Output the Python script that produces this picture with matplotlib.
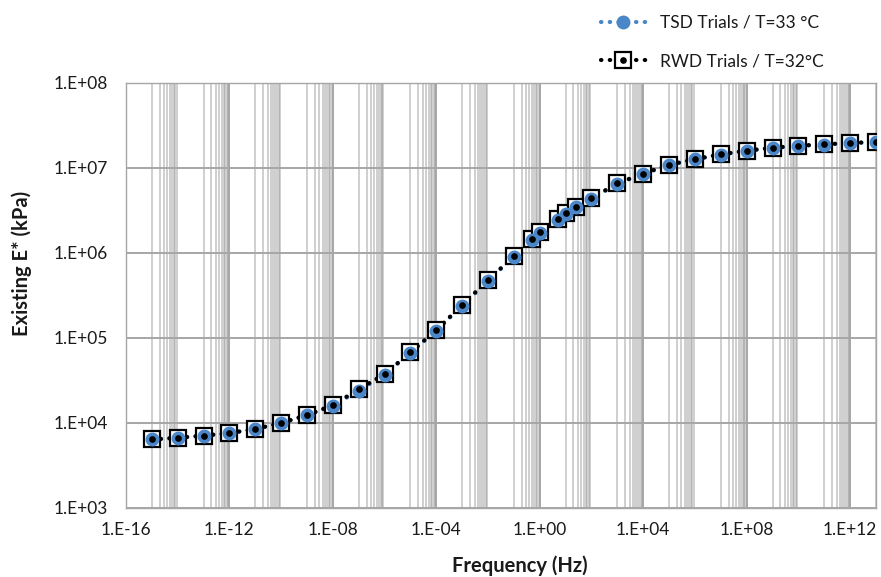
import numpy as np
from matplotlib import pyplot as plt
from matplotlib.legend_handler import HandlerTuple
from matplotlib.ticker import FixedLocator, FuncFormatter, NullLocator

plt.rcParams['font.family'] = ['Lato', 'DejaVu Sans']

# master curve points, frequency in Hz and |E*| in kPa
freq = [1e-15, 1e-14, 1e-13, 1e-12, 1e-11, 1e-10, 1e-9, 1e-8, 1e-7, 1e-6,
        1e-5, 1e-4, 1e-3, 1e-2, 1e-1, 0.5, 1, 5, 10, 25, 100,
        1e3, 1e4, 1e5, 1e6, 1e7, 1e8, 1e9, 1e10, 1e11, 1e12, 1e13]
tsd_e = [6.4e3, 6.7e3, 7.1e3, 7.6e3, 8.5e3, 1.0e4, 1.23e4, 1.6e4, 2.4e4, 3.7e4,
         6.7e4, 1.22e5, 2.4e5, 4.7e5, 9.0e5, 1.42e6, 1.7e6, 2.45e6, 2.87e6, 3.45e6, 4.35e6,
         6.5e6, 8.5e6, 1.08e7, 1.26e7, 1.44e7, 1.59e7, 1.72e7, 1.82e7, 1.88e7, 1.97e7, 2.0e7]
rwd_e = [6.4e3, 6.7e3, 7.1e3, 7.6e3, 8.5e3, 1.0e4, 1.24e4, 1.62e4, 2.5e4, 3.75e4,
         6.8e4, 1.24e5, 2.45e5, 4.8e5, 9.2e5, 1.45e6, 1.75e6, 2.5e6, 2.92e6, 3.5e6, 4.4e6,
         6.6e6, 8.6e6, 1.09e7, 1.27e7, 1.45e7, 1.6e7, 1.73e7, 1.83e7, 1.89e7, 1.98e7, 2.01e7]

x_major_exp = list(range(-16, 13, 4))
y_major_exp = list(range(3, 9))

fig = plt.figure(figsize=(8.81, 5.77), dpi=100)
ax = fig.add_axes([0.143, 0.1196, 0.8513, 0.7366])
ax.set_xscale('log')
ax.set_yscale('log')
ax.set_xlim(1e-16, 1e13)
ax.set_ylim(1e3, 1e8)

# excel style grid: minor lines in two groups per major step
for e in x_major_exp:
    for s in (1, 3):
        for m in range(1, 10):
            ax.axvline(m * 10.0 ** (e + s), color='#8c8c8c', alpha=0.45, lw=1.3, zorder=0)
    ax.axvline(10.0 ** e, color='#a6a6a6', lw=1.4, zorder=0)
for e in y_major_exp:
    ax.axhline(10.0 ** e, color='#a6a6a6', lw=1.4, zorder=0)

fmt = FuncFormatter(lambda v, _: '1.E{:+03d}'.format(int(round(np.log10(v)))))
ax.xaxis.set_major_locator(FixedLocator([10.0 ** e for e in x_major_exp]))
ax.yaxis.set_major_locator(FixedLocator([10.0 ** e for e in y_major_exp]))
ax.xaxis.set_minor_locator(NullLocator())
ax.yaxis.set_minor_locator(NullLocator())
ax.xaxis.set_major_formatter(fmt)
ax.yaxis.set_major_formatter(fmt)
ax.tick_params(axis='both', length=0, labelsize=12.5, colors='#1a1a1a')
ax.tick_params(axis='x', pad=10)
ax.tick_params(axis='y', pad=13)
for sp in ax.spines.values():
    sp.set_color('#a6a6a6')
    sp.set_linewidth(1.0)

dots = dict(ls=(0, (0.1, 2.0)), lw=3.0, dash_capstyle='round')
blue = '#4a86c8'
tsd_line, = ax.plot(freq, tsd_e, color=blue, zorder=2, **dots)
rwd_line, = ax.plot(freq, rwd_e, color='black', marker='s', ms=11.5, mfc='white',
                    mec='black', mew=1.6, zorder=3, **dots)
tsd_pts, = ax.plot(freq, tsd_e, ls='none', marker='o', ms=9, color=blue, zorder=4)
rwd_dots, = ax.plot(freq, rwd_e, ls='none', marker='o', ms=3.8, color='black', zorder=5)

fig.text(22 / 881, 1 - 263 / 577, 'Existing E* (kPa)', rotation=90, ha='center', va='center',
         fontsize=14.5, fontweight='bold', color='#1a1a1a')
fig.text(520 / 881, 1 - 566 / 577, 'Frequency (Hz)', ha='center', va='center',
         fontsize=14.5, fontweight='bold', color='#1a1a1a')

fig.legend(handles=[(tsd_line, tsd_pts), (rwd_line, rwd_dots)],
           labels=['TSD Trials / T=33 °C', 'RWD Trials / T=32°C'],
           handler_map={tuple: HandlerTuple(ndivide=1, pad=0)},
           loc='upper left', bbox_to_anchor=(0.665, 1.0), frameon=False,
           fontsize=12.5, handlelength=2.6, handletextpad=0.8, labelspacing=1.3,
           borderpad=0.35, labelcolor='#1a1a1a')

fig.savefig('out.png', dpi=100, facecolor='white')
